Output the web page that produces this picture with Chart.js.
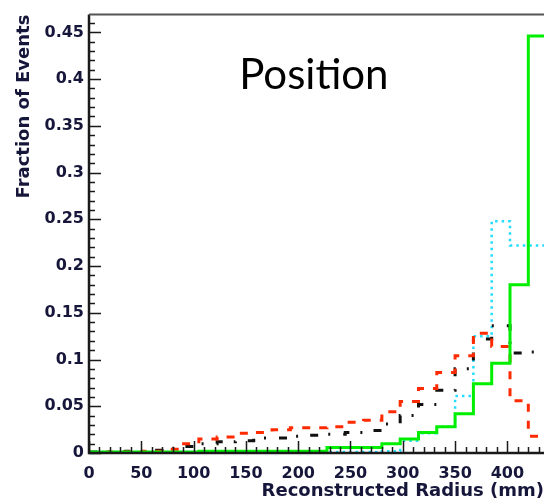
<!DOCTYPE html>
<html lang="en">
<head>
<meta charset="UTF-8">
<title>Position</title>
<script src="https://cdn.jsdelivr.net/npm/chart.js"></script>
<style>
  html, body { margin: 0; padding: 0; background: #fff; }
  #radiusChart { display: block; }
</style>
</head>
<body>
<canvas id="radiusChart" width="544" height="503"></canvas>
<script>
// histogram bins along the reconstructed radius (mm)
const binWidth = 17.5;

// fraction of events per bin, one array per sample
const greenFrac = [0.001, 0.001, 0.001, 0.001, 0.001, 0.001, 0.002, 0.002, 0.002, 0.002,
                   0.002, 0.002, 0.002, 0.006, 0.006, 0.006, 0.010, 0.015, 0.022, 0.028,
                   0.042, 0.074, 0.096, 0.180, 0.446];
const redFrac   = [0.0005, 0.001, 0.001, 0.002, 0.004, 0.010, 0.015, 0.017, 0.021, 0.022,
                   0.025, 0.027, 0.027, 0.028, 0.033, 0.035, 0.044, 0.055, 0.069, 0.086,
                   0.104, 0.128, 0.114, 0.056, 0.018];
const blackFrac = [0.001, 0.001, 0.002, 0.003, 0.005, 0.007, 0.010, 0.012, 0.013, 0.016,
                   0.016, 0.018, 0.019, 0.020, 0.022, 0.024, 0.031, 0.040, 0.052, 0.067,
                   0.090, 0.122, 0.136, 0.107, 0.108];
const cyanFrac  = [0.001, 0.001, 0.001, 0.001, 0.001, 0.001, 0.001, 0.001, 0.001, 0.001,
                   0.001, 0.001, 0.001, 0.001, 0.001, 0.001, 0.002, 0.013, 0.021, 0.028,
                   0.061, 0.125, 0.248, 0.222, 0.222];

// each bin becomes a point at its right edge; the opening point sits on the left edge.
// with stepped 'after' the riser is drawn at the bin's left edge
function toSteps(values) {
  const pts = [{ x: 0, y: values[0] }];
  values.forEach((v, i) => pts.push({ x: (i + 1) * binWidth, y: v }));
  return pts;
}

const axisInk = '#16163a';
const tickFont = { family: 'DejaVu Sans', size: 16, weight: 'bold' };
const titleFont = { family: 'DejaVu Sans', size: 18, weight: 'bold' };

// frame, inward ticks and the panel label
const frameTicks = {
  id: 'frameTicks',
  afterDatasetsDraw(chart) {
    const { ctx, chartArea: a, scales: { x, y } } = chart;
    ctx.save();
    ctx.strokeStyle = '#1a1a1a';
    ctx.lineWidth = 1.5;
    ctx.beginPath();
    for (let i = 0; i <= 46; i++) {
      const py = Math.round(y.getPixelForValue(i / 100)) + 0.5;
      const len = i % 5 === 0 ? 12 : 6;
      ctx.moveTo(a.left, py);
      ctx.lineTo(a.left + len, py);
    }
    for (let v = 0; v <= x.max; v += 10) {
      const px = Math.round(x.getPixelForValue(v)) + 0.5;
      const len = v % 50 === 0 ? 12 : 6;
      ctx.moveTo(px, a.bottom);
      ctx.lineTo(px, a.bottom - len);
    }
    ctx.stroke();

    // axis lines
    ctx.lineWidth = 2.5;
    ctx.beginPath();
    ctx.moveTo(a.left, a.top);
    ctx.lineTo(a.left, a.bottom);
    ctx.lineTo(a.right, a.bottom);
    ctx.stroke();
    ctx.strokeStyle = '#555';
    ctx.lineWidth = 2;
    ctx.beginPath();
    ctx.moveTo(a.left, a.top);
    ctx.lineTo(a.right, a.top);
    ctx.stroke();

    ctx.fillStyle = '#000';
    ctx.font = '42px Lato';
    ctx.textAlign = 'center';
    ctx.textBaseline = 'alphabetic';
    ctx.fillText('Position', x.getPixelForValue(215), y.getPixelForValue(0.389));
    ctx.restore();
  }
};

new Chart(document.getElementById('radiusChart'), {
  type: 'line',
  data: {
    datasets: [
      { data: toSteps(greenFrac), borderColor: '#00ee00', borderWidth: 3 },
      { data: toSteps(redFrac), borderColor: '#ff2a00', borderWidth: 3, borderDash: [8, 9] },
      { data: toSteps(blackFrac), borderColor: '#111111', borderWidth: 3, borderDash: [8, 11, 2, 13] },
      { data: toSteps(cyanFrac), borderColor: '#22ddff', borderWidth: 2.5, borderDash: [2.5, 4] }
    ]
  },
  options: {
    responsive: false,
    animation: false,
    layout: { padding: { top: 10, right: 0, bottom: 0, left: 0 } },
    elements: {
      point: { radius: 0 },
      line: { stepped: 'after', tension: 0, fill: false, borderCapStyle: 'butt' }
    },
    plugins: { legend: { display: false }, tooltip: { enabled: false } },
    scales: {
      x: {
        type: 'linear',
        min: 0,
        max: 435,
        afterFit(s) { s.height = 50; },
        grid: { display: false, drawTicks: false },
        border: { display: false },
        ticks: {
          stepSize: 50, includeBounds: false, padding: 11, maxRotation: 0, autoSkip: false,
          font: tickFont, color: axisInk
        },
        title: {
          display: true, text: 'Reconstructed Radius (mm)', align: 'end',
          font: titleFont, color: axisInk, padding: { top: 0, bottom: 1 }
        }
      },
      y: {
        min: 0,
        max: 0.469,
        afterFit(s) { s.width = 89; },
        grid: { display: false, drawTicks: false },
        border: { display: false },
        ticks: {
          stepSize: 0.05, includeBounds: false, padding: 5,
          font: tickFont, color: axisInk,
          callback: v => String(Number(v.toFixed(2)))
        },
        title: {
          display: true, text: 'Fraction of Events', align: 'end',
          font: titleFont, color: axisInk, padding: { top: 14, bottom: 0 }
        }
      }
    }
  },
  plugins: [frameTicks]
});
</script>
</body>
</html>
